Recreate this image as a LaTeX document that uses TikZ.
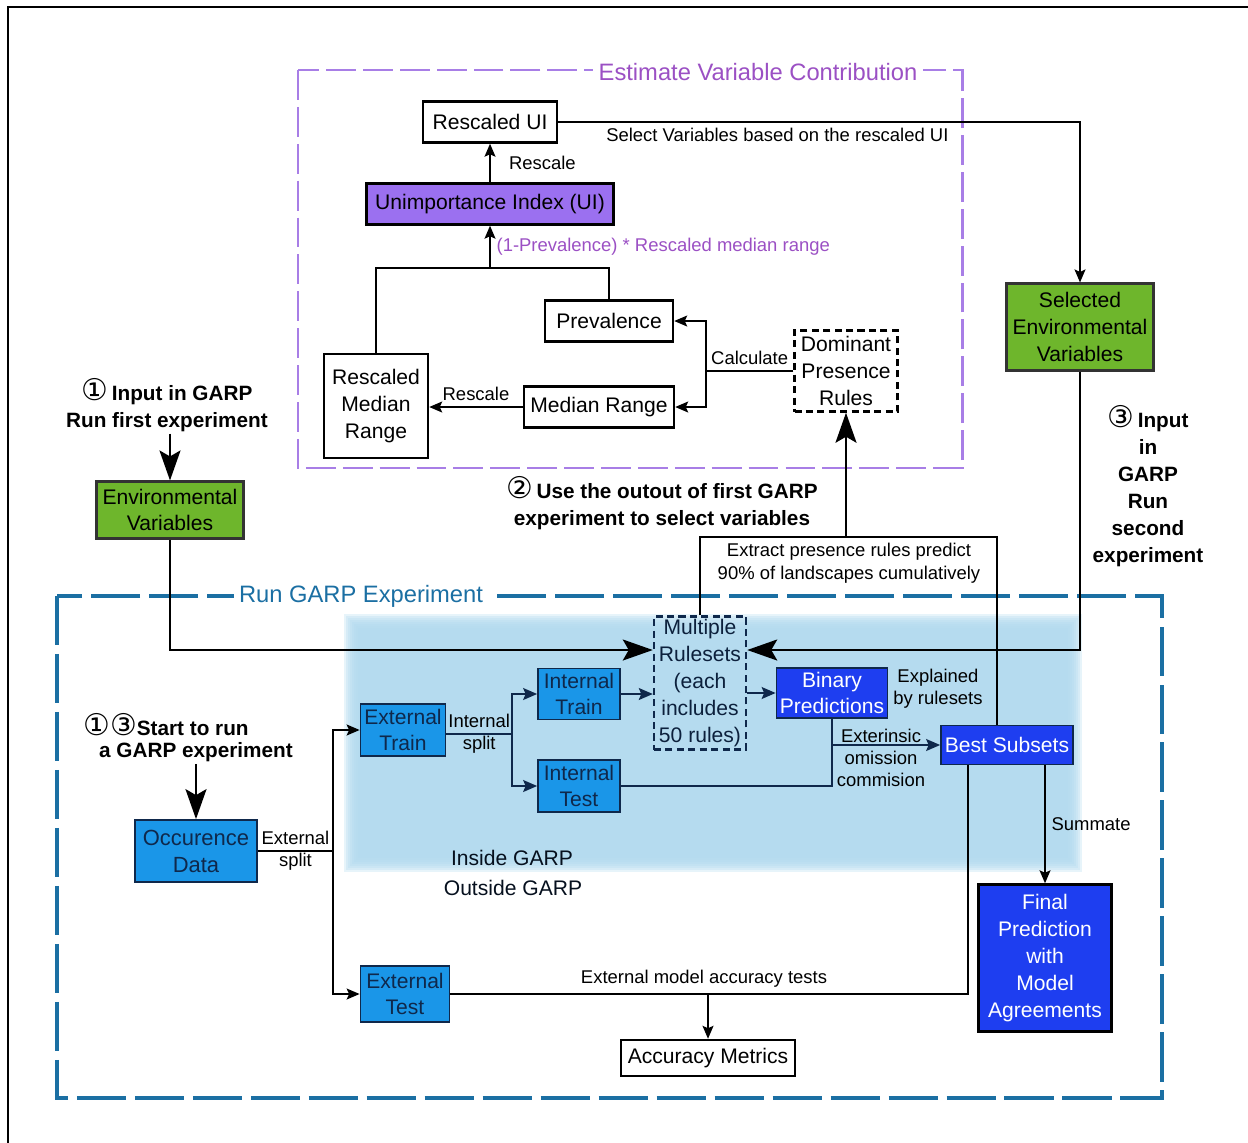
\documentclass[tikz,border=0pt]{standalone}
\usepackage{fontspec}
\setmainfont{Liberation Sans}
\newfontfamily\symfont{DejaVu Sans}
\usetikzlibrary{arrows.meta}
\definecolor{evcpurple}{RGB}{155,80,196}
\definecolor{evcline}{RGB}{168,126,230}
\definecolor{uifill}{RGB}{155,112,240}
\definecolor{envgreen}{RGB}{110,182,44}
\definecolor{garpblue}{RGB}{27,111,163}
\definecolor{garpbg}{RGB}{176,217,238}
\definecolor{lightbox}{RGB}{26,150,232}
\definecolor{darkbox}{RGB}{30,62,240}
\definecolor{navy}{RGB}{15,40,75}
\newcommand{\cnum}[1]{{\symfont\mdseries\fontsize{17}{15}\selectfont #1}}
\tikzset{wh/.style 2 args={minimum width=#1*0.02cm, minimum height=#2*0.02cm},
 boxtxt/.style={font=\fontsize{12}{15.3}\selectfont, align=center, inner sep=1pt},
 wbox/.style={boxtxt, draw=black, line width=1.4pt, fill=white},
 dombox/.style={boxtxt, draw=black, line width=1.4pt, dash pattern=on 4pt off 2.5pt, fill=white},
 multibox/.style={boxtxt, draw=navy, line width=1.4pt, dash pattern=on 4pt off 2.5pt, text=navy!80!black},
 uibox/.style={boxtxt, draw=black, line width=1.4pt, fill=uifill},
 greenbox/.style={boxtxt, draw=black!80, line width=1.2pt, fill=envgreen},
 lbox/.style={boxtxt, draw=navy, line width=1pt, fill=lightbox, text=navy},
 dbox/.style={boxtxt, draw=navy, line width=1pt, fill=darkbox, text=white},
 lbl/.style={font=\fontsize{10.5}{13}\selectfont},
 lbl2/.style={font=\fontsize{10.5}{12.5}\selectfont, align=center, inner sep=1pt},
 boldlbl/.style={font=\bfseries\fontsize{11.8}{15.3}\selectfont, align=center, inner sep=1pt},
 gtxt/.style={font=\fontsize{12}{14}\selectfont, text=black!60!navy},
 evcdash/.style={draw=evcline, line width=1.7pt, dash pattern=on 17pt off 4pt},
 garpdash/.style={draw=garpblue, line width=2pt, dash pattern=on 28pt off 5pt},
 conn/.style={draw=black, line width=0.85pt},
 arr/.style={conn, -{Stealth[length=0.26cm,width=0.22cm,inset=0.05cm]}},
 dline/.style={draw=navy, line width=0.85pt},
 darr/.style={dline, -{Stealth[length=0.28cm,width=0.24cm,inset=0.05cm]}},
 heavy/.style={draw=black, line width=1.3pt},
 bigarr/.style={heavy, -{Stealth[length=0.6cm,width=0.42cm,inset=0.12cm]}},
}

\begin{document}
\begin{tikzpicture}[x=0.02cm,y=-0.02cm]
\useasboundingbox (0,0) rectangle (1248,1143);
% frame
\draw[line width=1.6pt] (8,1143) -- (8,7) -- (1248,7);

% inside GARP shading
\foreach \d in {0,2,...,14}
  \fill[garpbg,opacity=0.3] ({358-\d},{628-\d}) rectangle ({1068+\d},{858+\d});

% group frames
\draw[evcdash] (298,70) rectangle (962,468);
\node[fill=white, inner sep=3pt, font=\fontsize{13.5}{15}\selectfont, text=evcpurple] (evct) at (758,72) {Estimate Variable Contribution};
\draw[garpdash] (57,596) rectangle (1162,1098);
\node[fill=white, inner sep=3pt, font=\fontsize{13.5}{15}\selectfont, text=garpblue] (garpt) at (361,596) {Run GARP Experiment};

% estimate variable contribution
\node[wbox,wh={134}{41}] (rui) at (490,122) {Rescaled UI};
\node[uibox,wh={247}{41}] (ui) at (490,204) {Unimportance Index (UI)};
\node[wbox,wh={128}{41}] (prev) at (609,321) {Prevalence};
\node[wbox,wh={150}{41}] (mr) at (599,407) {Median Range};
\node[wbox,wh={104}{104}] (rmr) at (376,406) {Rescaled\\Median\\Range};
\node[dombox,wh={103}{81}] (dom) at (846,371) {Dominant\\Presence\\Rules};

% variables
\node[greenbox,wh={147}{87}] (selvar) at (1080,327) {Selected\\Environmental\\Variables};
\node[greenbox,wh={147}{57}] (envvar) at (170,510) {Environmental\\Variables};

% steps
\node[boldlbl] (in1) at (167,405) {\cnum{①}\,Input in GARP\\Run first experiment};
\node[boldlbl] (use2) at (662,503) {\cnum{②}\,Use the outout of first GARP\\experiment to select variables};
\node[boldlbl] (in3) at (1148,486) {\cnum{③}\,Input\\in\\GARP\\Run\\second\\experiment};
\node[boldlbl] (start13) at (166,725) {\cnum{①}\cnum{③}Start to run};
\node[boldlbl] (start13b) at (196,752) {a GARP experiment};

% GARP experiment
\node[lbox,font=\fontsize{12.5}{15.3}\selectfont,wh={122}{62}] (occ) at (196,851) {Occurence\\Data};
\node[lbox,wh={85}{52}] (etr) at (403,730) {External\\Train};
\node[lbox,wh={82}{51}] (itr) at (579,694) {Internal\\Train};
\node[lbox,wh={82}{52}] (its) at (579,786) {Internal\\Test};
\node[lbox,wh={89}{56}] (ets) at (405,994) {External\\Test};
\node[multibox,wh={92}{133}] (multi) at (700,683) {Multiple\\Rulesets\\(each\\includes\\50 rules)};
\node[dbox,wh={111}{50}] (bin) at (832,693) {Binary\\Predictions};
\node[dbox,wh={132}{39}] (bs) at (1007,745) {Best Subsets};
\node[dbox,draw=black,line width=1.4pt,wh={133}{147}] (fin) at (1045,958) {Final\\Prediction\\with\\Model\\Agreements};
\node[wbox,wh={174}{36}] (acc) at (708,1058) {Accuracy Metrics};
\node[gtxt] (ins) at (512,858) {Inside GARP};
\node[gtxt] (outs) at (513,888) {Outside GARP};

% connectors, top
\draw[arr] (ui) -- (rui) node[midway,right=0.25cm,lbl] {Rescale};
\coordinate (jn) at (490,268);
\draw[conn] (rmr.north) |- (jn) -| (prev.north);
\draw[arr] (jn) -- (ui.south) node[midway,right,lbl,text=evcpurple] {(1-Prevalence) * Rescaled median range};
\coordinate (cj) at (706,371);
\draw[conn] (dom.west) -- (cj) node[midway,above,lbl] {Calculate};
\draw[arr] (cj) |- (prev.east);
\draw[arr] (cj) |- (mr.east);
\draw[arr] (mr.west) -- (rmr.east |- mr.west) node[midway,above,lbl] {Rescale};
\draw[arr] (rui.east) -| (selvar.north) node[pos=0.21,below,lbl] {Select Variables based on the rescaled UI};

% extract rules
\coordinate (ex) at (997,537);
\draw[heavy] (multi.north) |- (ex) -- (bs.north -| ex);
\node[lbl,align=center] (extxt) at (849,563) {Extract presence rules predict\\90\% of landscapes cumulatively};
\draw[bigarr] (dom.south |- ex) -- (dom.south);

% inputs
\draw[bigarr] (in1.south -| envvar.north) -- (envvar.north);
\draw[bigarr] (envvar.south) |- ([yshift=0.66cm]multi.west);
\draw[bigarr] (selvar.south) |- ([yshift=0.66cm]multi.east);
\draw[bigarr] (start13b.south -| occ.north) -- (occ.north);

% splits
\coordinate (esp) at (333,851);
\draw[conn] (occ.east) -- (esp) node[midway,lbl2] {External\\split};
\draw[arr] (esp) |- (etr.west);
\draw[arr] (esp) |- (ets.west);
\coordinate (isp) at (512,734);
\draw[dline] (etr.east |- isp) -- (isp) node[midway,lbl2] {Internal\\split};
\draw[darr] (isp) |- (itr.west);
\draw[darr] (isp) |- (its.west);
\draw[darr] (itr.east) -- (multi.west |- itr.east);
\draw[darr] (multi.east |- bin.west) -- (bin.west);
\draw[dline] (its.east) -| (bin.south);
\draw[darr] (bin.south |- bs.west) -- (bs.west);
\node[lbl2] (extom) at (881,758) {Exterinsic\\omission\\commision};
\node[lbl2] (expl) at (938,689) {Explained\\by rulesets};

% outputs
\draw[arr] (bs.south -| fin.north) -- (fin.north) node[midway,right,lbl] {Summate};
\draw[conn] ([xshift=-0.78cm]bs.south) |- (ets.east) node[pos=0.755,above,lbl] {External model accuracy tests};
\draw[arr] (acc.north |- ets.east) -- (acc.north);
\end{tikzpicture}
\end{document}
